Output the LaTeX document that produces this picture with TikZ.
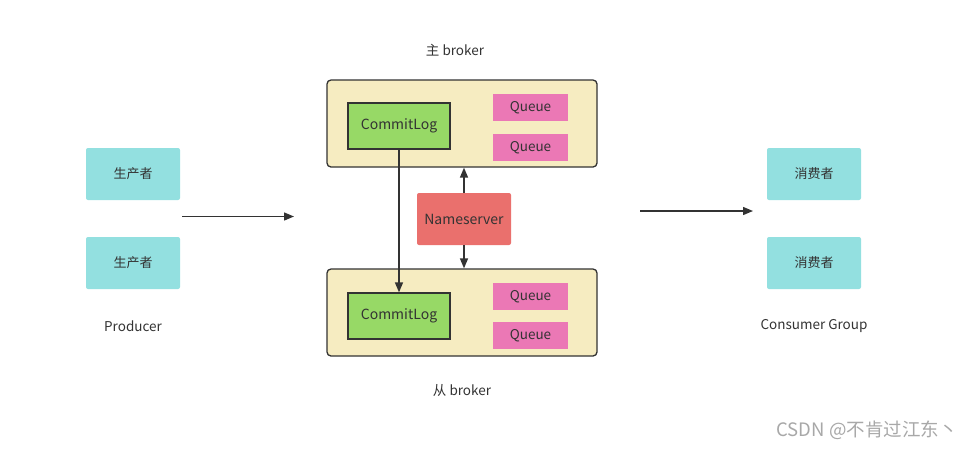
\documentclass[tikz,border=0pt]{standalone}
\usepackage{fontspec}
\setmainfont{Noto Sans CJK SC}
\usetikzlibrary{arrows.meta}
\definecolor{teal1}{HTML}{93E0E0}
\definecolor{cream}{HTML}{F6ECC1}
\definecolor{green1}{HTML}{97D966}
\definecolor{pink1}{HTML}{EB78B5}
\definecolor{red1}{HTML}{EA706D}
\definecolor{ink}{HTML}{333333}
\definecolor{wm}{HTML}{A8A8A8}
\tikzset{
  client/.style={fill=teal1,rounded corners=2pt,draw=none,minimum width=94pt,minimum height=52pt,inner sep=0pt,text=ink,font=\fontsize{13}{15}\selectfont},
  brokerbox/.style={fill=cream,draw=ink,line width=1.3pt,rounded corners=4pt,minimum width=270pt,minimum height=87pt,inner sep=0pt},
  logbox/.style={fill=green1,draw=ink,line width=1.3pt,minimum width=102pt,minimum height=46pt,inner sep=0pt,text=ink,font=\fontsize{14}{16}\selectfont},
  qbox/.style={fill=pink1,draw=none,minimum width=75pt,minimum height=27pt,inner sep=0pt,text=ink,font=\fontsize{13.5}{15}\selectfont},
  nsbox/.style={fill=red1,draw=none,rounded corners=2pt,minimum width=94pt,minimum height=52pt,inner sep=0pt,text=ink,font=\fontsize{14}{16}\selectfont},
  lbl/.style={text=ink,inner sep=0pt,font=\fontsize{13.5}{15}\selectfont},
  conn/.style={draw=ink,line width=1.4pt,-{Triangle[length=10pt,width=8pt]}}
}
\begin{document}
\begin{tikzpicture}[x=1pt,y=-1pt]
\useasboundingbox[fill=white] (0,0) rectangle (975,448);
% producers
\node[client] (p1) at (133,174) {生产者};
\node[client] (p2) at (133,263) {生产者};
\node[lbl] (plbl) at (133,326) {Producer};
\coordinate (pa) at (182,216.5);
\coordinate (pb) at (294,216.5);
\draw[conn] (pa) -- (pb);
% master broker
\node[lbl] (mlbl) at (455,50) {主 broker};
\node[brokerbox] (mb) at (462,123.5) {};
\node[logbox] (cl1) at (399,126) {CommitLog};
\node[qbox] (q1) at (530.5,107.5) {Queue};
\node[qbox] (q2) at (530.5,147.5) {Queue};
% nameserver
\node[nsbox] (ns) at (464,219) {Nameserver};
% slave broker
\node[brokerbox] (sb) at (462,312.5) {};
\node[logbox] (cl2) at (399,316) {CommitLog};
\node[qbox] (q3) at (530.5,296.5) {Queue};
\node[qbox] (q4) at (530.5,335.5) {Queue};
\node[lbl] (slbl) at (462,390) {从 broker};
% connectors
\draw[conn] (ns.north) -- (mb.south -| ns.north);
\draw[conn] (ns.south) -- (sb.north -| ns.south);
\draw[conn] (cl1.south) -- (cl2.north);
% consumers
\coordinate (ca) at (640,211);
\coordinate (cb) at (753,211);
\draw[conn] (ca) -- (cb);
\node[client] (c1) at (814,174) {消费者};
\node[client] (c2) at (814,263) {消费者};
\node[lbl] (clbl) at (814,326) {Consumer Group};
% watermark
\node[text=wm,inner sep=0pt,font=\fontsize{18.5}{20}\selectfont] (wmk) at (867,430) {CSDN @不肯过江东丶};
\end{tikzpicture}
\end{document}
